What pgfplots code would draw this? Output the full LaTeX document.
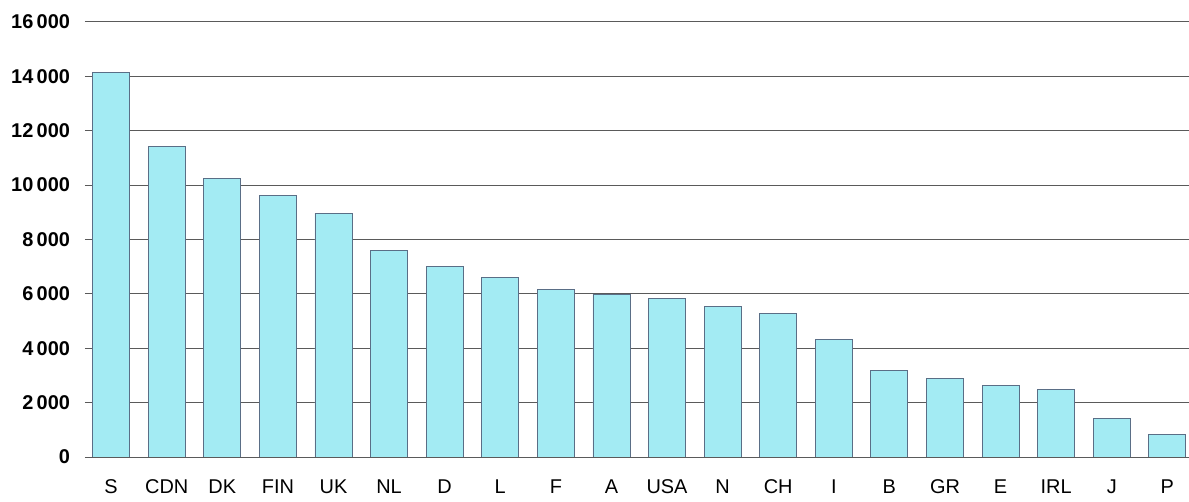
\documentclass[border=0pt]{standalone}
\usepackage{pgfplots}
\pgfplotsset{compat=1.18}
\usepackage{fontspec}
\setmainfont{Liberation Sans}
\definecolor{barfill}{HTML}{A3EBF3}
\definecolor{baredge}{HTML}{5A6E86}
\definecolor{gridc}{HTML}{5A5A5A}
\begin{document}
\begin{tikzpicture}
\useasboundingbox (-42.5bp,-22.5bp) rectangle (552bp,228.5bp);
\begin{axis}[
  at={(0,0)}, anchor=south west,
  scale only axis,
  width=552bp, height=217.5bp,
  xmin=-0.47, xmax=19.39,
  ymin=0, ymax=16000,
  ytick={0,2000,...,16000},
  xtick=data,
  xticklabels={S,CDN,DK,FIN,UK,NL,D,L,F,A,USA,N,CH,I,B,GR,E,IRL,J,P},
  axis line style={draw=none},
  major tick length=0pt,
  ymajorgrids,
  grid style={gridc, line width=0.5pt},
  axis on top=false,
  ybar, bar width=18.5bp,
  /pgf/number format/assume math mode=true,
  /pgf/number format/1000 sep={\,},
  scaled y ticks=false,
  yticklabel style={font=\fontsize{10}{12}\selectfont\bfseries, xshift=-4bp},
  xticklabel style={font=\fontsize{10}{12}\selectfont, yshift=-8bp},
]
\addplot[fill=barfill, draw=baredge, line width=0.4pt] coordinates {
 (0,14130) (1,11410) (2,10240) (3,9620) (4,8970) (5,7600) (6,7010) (7,6610)
 (8,6160) (9,5990) (10,5820) (11,5550) (12,5270) (13,4340) (14,3170)
 (15,2880) (16,2620) (17,2470) (18,1410) (19,820)
};
\end{axis}
\end{tikzpicture}
\end{document}
